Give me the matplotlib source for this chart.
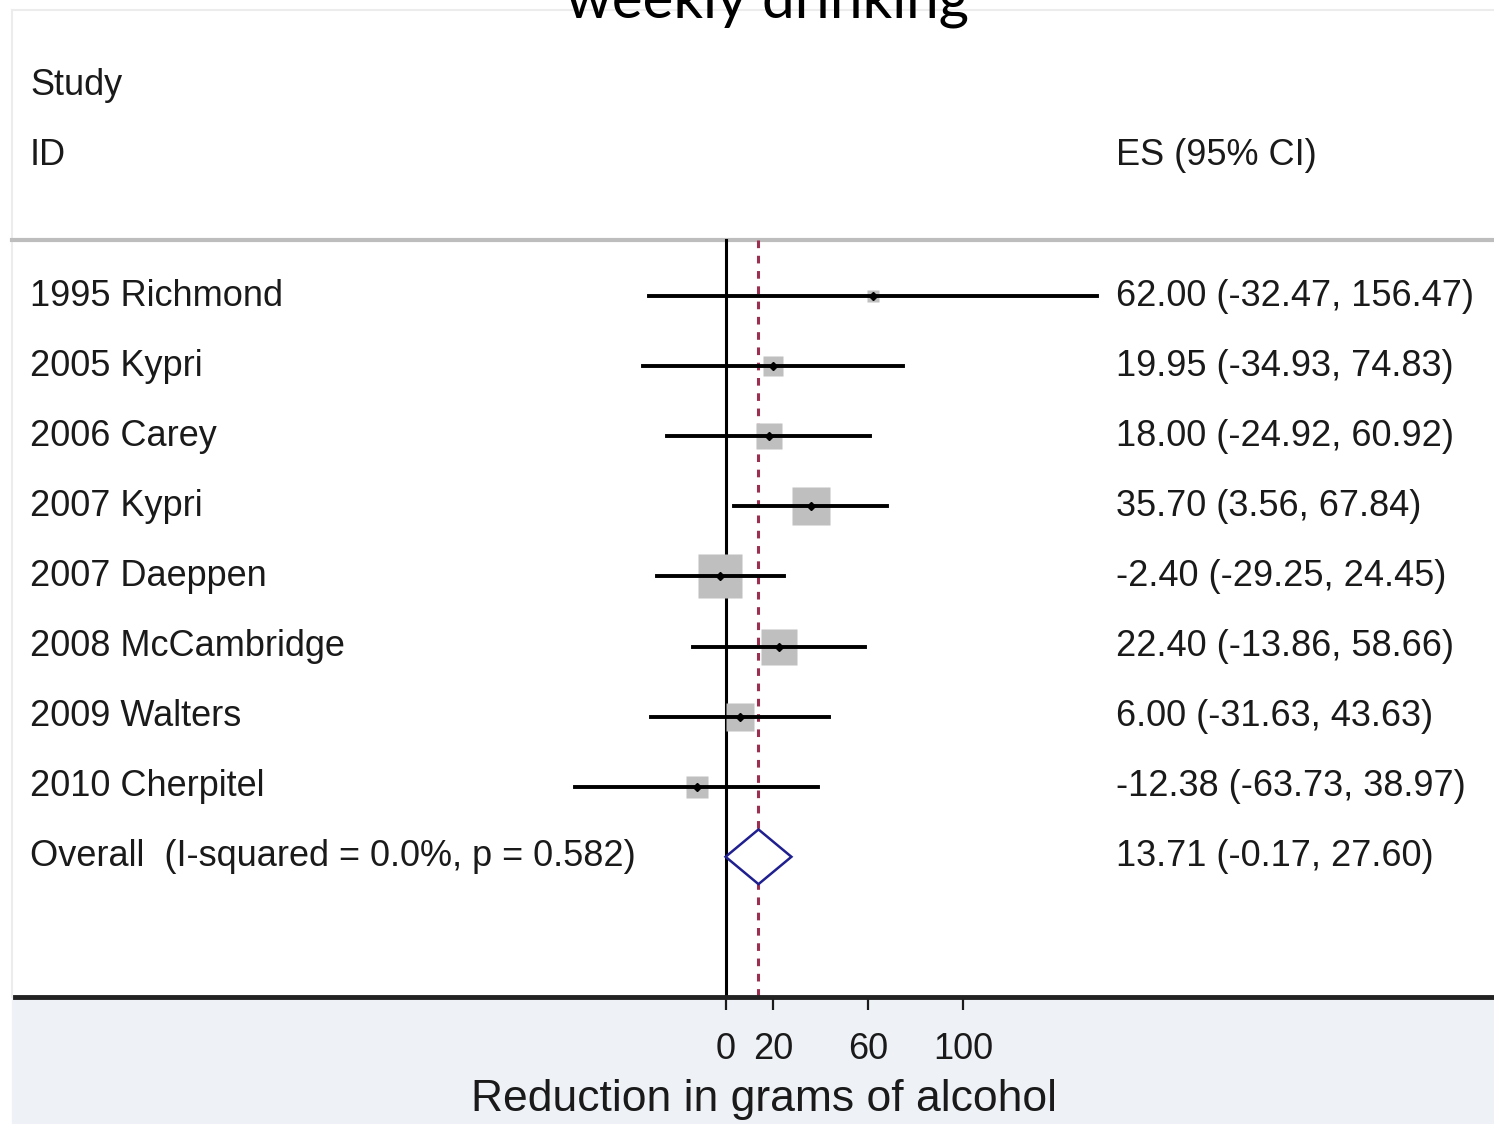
"""Forest plot: reduction in weekly drinking (grams of alcohol), eight trials + pooled."""

import matplotlib
matplotlib.use("Agg")
import matplotlib.pyplot as plt
import matplotlib.transforms as mtransforms

studies = ["1995 Richmond", "2005 Kypri", "2006 Carey", "2007 Kypri",
           "2007 Daeppen", "2008 McCambridge", "2009 Walters", "2010 Cherpitel"]
es = [62.00, 19.95, 18.00, 35.70, -2.40, 22.40, 6.00, -12.38]
lo = [-32.47, -34.93, -24.92, 3.56, -29.25, -13.86, -31.63, -63.73]
hi = [156.47, 74.83, 60.92, 67.84, 24.45, 58.66, 43.63, 38.97]
weights = [2.3, 6.1, 9.3, 20.0, 26.8, 17.9, 10.8, 6.7]  # % weight

overall_label = "Overall  (I-squared = 0.0%, p = 0.582)"
overall_es, overall_lo, overall_hi = 13.71, -0.17, 27.60

xticks = [0, 20, 60, 100]
xlabel = "Reduction in grams of alcohol"
title = "weekly drinking"

FONT = "Liberation Sans"
plt.rcParams["font.family"] = [FONT, "DejaVu Sans"]

W, H = 1494, 1124
fig = plt.figure(figsize=(W / 100, H / 100), dpi=100)
ax = fig.add_axes([0, 0, 1, 1])

# x: 0 sits at pixel 726, 2.37 px per gram; y: one unit per row, row 0 at pixel 296
ppu = 2.37
ax.set_xlim(-726 / ppu, (W - 726) / ppu)
row_px = 70.1


def row(px):
    """Pixel height in the picture -> row units."""
    return (px - 296) / row_px


ax.set_facecolor("white")

y_sep = row(240)
y_axis = row(997)
y_top = row(10)
n = len(studies)

# frame and bottom band
ax.axhspan(y_axis, row(H), xmin=12 / W, color="#eef1f6", zorder=0)
ax.axhline(y_top, xmin=12 / W, color="#ececec", lw=1.5, zorder=1)
ax.axvline(ax.get_xlim()[0] + 12 / ppu, ymin=(H - 997) / H, ymax=1 - 10 / H,
           color="#ececec", lw=1.5, zorder=1)
ax.axhline(y_sep, xmin=12 / W, color="#bdbdbd", lw=3, zorder=1)

# reference lines
ax.plot([0, 0], [y_sep, y_axis], color="black", lw=2.2, zorder=2)
ax.plot([overall_es, overall_es], [y_sep, y_axis], color="#9c2f4f", lw=2.2,
        ls=(0, (2.5, 2.5)), zorder=2)

# study boxes, CIs, point estimates
for i in range(n):
    ax.plot(es[i], i, marker="s", ms=6.12 * weights[i] ** 0.5, color="#bfbfbf",
            mec="none", zorder=3)
    ax.plot([lo[i], hi[i]], [i, i], color="black", lw=2.8, zorder=4)
    ax.plot(es[i], i, marker="D", ms=4, color="black", zorder=5)

# pooled diamond
yo = n
ax.fill([overall_lo, overall_es, overall_hi, overall_es, overall_lo],
        [yo, yo - 0.39, yo, yo + 0.39, yo], facecolor="white",
        edgecolor="#1f1f8f", lw=1.8, zorder=5)

# text columns
left = mtransforms.blended_transform_factory(fig.transFigure, ax.transData)
fs = 26
ink = "#1a1a1a"
ax.text(30 / W, -3, "Study", transform=left, fontsize=fs, va="center", color=ink)
ax.text(30 / W, -2, "ID", transform=left, fontsize=fs, va="center", color=ink)
ax.text(1116 / W, -2, "ES (95% CI)", transform=left, fontsize=fs, va="center",
        color=ink)
for i in range(n):
    ax.text(30 / W, i, studies[i], transform=left, fontsize=fs, va="center",
            color=ink)
    ax.text(1116 / W, i, f"{es[i]:.2f} ({lo[i]:.2f}, {hi[i]:.2f})", transform=left,
            fontsize=fs, va="center", color=ink)
ax.text(30 / W, yo, overall_label, transform=left, fontsize=fs, va="center",
        color=ink)
ax.text(1116 / W, yo, f"{overall_es:.2f} ({overall_lo:.2f}, {overall_hi:.2f})",
        transform=left, fontsize=fs, va="center", color=ink)

# x axis drawn at the bottom of the plot region
for side in ("top", "left", "right"):
    ax.spines[side].set_visible(False)
ax.spines["bottom"].set_position(("data", y_axis))
ax.spines["bottom"].set_linewidth(3.5)
ax.spines["bottom"].set_color("#222222")
ax.spines["bottom"].set_bounds(ax.get_xlim()[0] + 15 / ppu, ax.get_xlim()[1])
ax.set_yticks([])
ax.set_xticks(xticks)
ax.tick_params(axis="x", direction="out", length=9, width=1.6, pad=16,
               labelsize=26, colors=ink)
ax.text(764 / W, row(1099), xlabel, transform=left, fontsize=32, ha="center",
        va="center", color=ink)
ax.set_ylim(row(H), row(0))

# title, mostly cut off above the frame
fig.text(767 / W, 1 - 18 / H, title, ha="center", va="baseline", fontsize=42,
         family=["Lato", "DejaVu Sans"], color="black")

fig.savefig("out.png", dpi=100)
